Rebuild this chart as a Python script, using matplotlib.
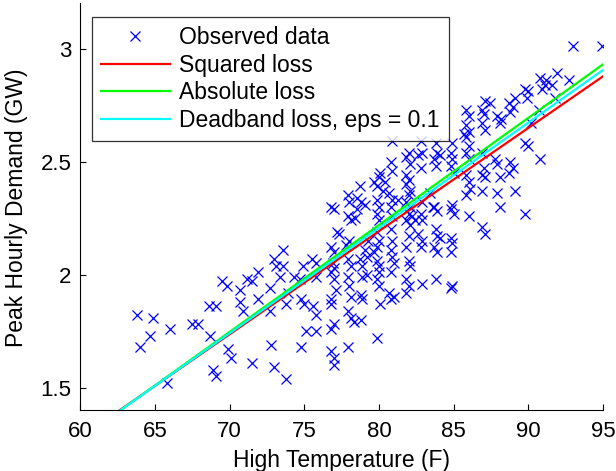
import numpy as np
import matplotlib
matplotlib.use("Agg")
import matplotlib.pyplot as plt

# datos: temperatura maxima (F) y demanda pico (GW)
temp = [
    63.8, 64.0, 64.9, 64.7, 66.0, 65.8, 67.5, 67.9, 68.6, 69.1, 68.7, 68.9, 69.1,
    69.5, 69.8, 69.9, 70.1, 70.7, 70.7, 70.9, 71.2, 71.5, 71.9, 71.9, 71.5, 72.7,
    72.7, 72.8, 73.0, 73.1, 73.0, 73.6, 73.6, 73.8, 73.4, 73.9, 73.8, 74.3, 74.7,
    74.8, 75.0, 75.1, 74.8, 74.9, 75.5, 75.8, 75.8, 75.6, 75.8, 75.8,
    76.8, 77.0, 76.8, 77.0, 76.9, 77.0, 76.8, 77.0, 77.1, 76.8, 76.8, 77.0, 76.8,
    76.8, 77.0, 77.0, 77.2, 77.3,
    77.9, 78.0, 77.9, 78.1, 78.0, 77.8, 77.9, 78.1, 77.9, 78.0, 78.1, 77.9, 78.1,
    78.3, 77.9, 78.5, 78.5, 78.4, 78.7, 78.8, 78.8, 78.9, 78.8, 78.7, 78.9, 79.1,
    79.2, 79.2, 78.9, 79.1, 79.3,
    79.7, 79.9, 80.0, 80.1, 79.9, 80.0, 79.9, 80.0, 79.9, 80.0, 79.9, 79.7, 79.9,
    80.0, 80.0, 79.9, 80.0, 80.1, 79.9, 80.4, 80.3,
    80.9, 80.8, 80.9, 80.7, 80.9, 80.8, 80.9, 80.8, 80.9, 80.8, 80.9, 81.0, 80.8,
    80.7, 80.8, 81.0, 81.3,
    82.0, 81.8, 82.1, 81.8, 82.0, 81.8, 82.1, 82.0, 81.8, 82.1, 82.0, 81.8, 82.1,
    82.0, 81.8, 82.0, 82.1, 81.8, 82.0, 81.8, 82.2, 82.4,
    82.8, 82.9, 82.6, 82.8, 82.9, 82.8, 82.9, 82.6, 82.9, 82.8, 82.9, 83.4, 83.6,
    83.8, 83.9, 83.7, 83.8, 84.1, 83.7, 83.9, 83.8, 83.9, 83.7, 83.9, 83.8, 84.1,
    84.9, 84.8, 84.9, 84.8, 85.0, 84.9, 84.8, 85.0, 84.8, 84.9, 84.8, 84.9, 84.8,
    85.8, 86.0, 85.8, 86.0, 85.8, 86.0, 85.8, 86.0, 85.8, 86.0, 86.1, 85.8, 86.0,
    85.7,
    87.1, 86.9, 87.0, 86.9, 87.1, 86.9, 87.0, 86.9, 87.1, 86.9, 86.9, 87.1, 87.4,
    87.9, 88.1, 87.8, 87.9, 88.1, 87.9, 88.1, 88.2,
    88.7, 89.0, 88.8, 89.1, 88.8, 89.0, 88.7, 89.1,
    89.8, 90.0, 89.9, 89.8, 90.0, 89.8, 90.2,
    90.8, 91.1, 90.9, 91.2, 90.8, 90.7,
    91.9, 91.6, 91.8, 92.7, 93.0, 94.9,
]
demanda = [
    1.82, 1.68, 1.81, 1.73, 1.76, 1.52, 1.78, 1.78, 1.86, 1.86, 1.73, 1.58, 1.55,
    1.97, 1.95, 1.67, 1.63, 1.93, 1.88, 1.84, 1.98, 1.97, 2.01, 1.89, 1.61, 1.94,
    1.84, 1.69, 2.07, 2.04, 1.59, 2.11, 2.04, 1.54, 1.99, 1.92, 1.87, 1.99, 1.98,
    1.89, 1.87, 1.75, 1.68, 2.04, 2.07, 2.05, 1.99, 1.86, 1.82, 1.75,
    2.30, 2.29, 2.12, 2.10, 2.05, 2.03, 2.01, 1.98, 1.93, 1.89, 1.87, 1.78, 1.76,
    1.66, 1.63, 1.60, 2.19, 2.18,
    2.35, 2.32, 2.26, 2.24, 2.15, 2.13, 2.07, 2.04, 1.99, 1.95, 1.90, 1.84, 1.81,
    1.79, 1.68, 2.34, 2.29, 2.25, 2.39, 2.32, 1.80, 1.99, 1.91, 2.07, 2.04, 2.11,
    2.08, 2.00, 1.89, 2.31, 2.15,
    2.41, 2.39, 2.43, 2.45, 2.33, 2.30, 2.27, 2.24, 2.19, 2.15, 2.12, 2.10, 2.06,
    2.04, 2.01, 1.98, 1.95, 1.87, 1.72, 2.41, 2.37,
    2.59, 2.50, 2.46, 2.36, 2.33, 2.30, 2.26, 2.20, 2.15, 2.11, 2.08, 2.05, 2.01,
    1.92, 1.89, 1.90, 2.33,
    2.54, 2.52, 2.49, 2.44, 2.42, 2.40, 2.37, 2.35, 2.32, 2.30, 2.27, 2.24, 2.22,
    2.17, 2.12, 2.06, 2.04, 1.98, 1.95, 1.92, 2.26, 2.24,
    2.59, 2.54, 2.53, 2.47, 2.32, 2.27, 2.24, 2.18, 2.15, 2.12, 1.96, 2.36, 2.30,
    2.58, 2.54, 2.51, 2.48, 2.53, 2.30, 2.28, 2.20, 2.17, 2.12, 2.10, 1.98, 2.16,
    2.58, 2.54, 2.51, 2.48, 2.45, 2.31, 2.29, 2.27, 2.16, 2.14, 2.10, 1.95, 1.94,
    2.73, 2.70, 2.66, 2.63, 2.61, 2.57, 2.54, 2.51, 2.44, 2.41, 2.38, 2.35, 2.26,
    2.62,
    2.77, 2.73, 2.71, 2.67, 2.64, 2.54, 2.47, 2.44, 2.43, 2.37, 2.21, 2.18, 2.76,
    2.70, 2.67, 2.51, 2.49, 2.43, 2.36, 2.30, 2.69,
    2.76, 2.74, 2.72, 2.78, 2.50, 2.47, 2.45, 2.37,
    2.82, 2.81, 2.78, 2.58, 2.57, 2.27, 2.67,
    2.87, 2.84, 2.82, 2.86, 2.51, 2.73,
    2.89, 2.84, 2.78, 2.86, 3.01, 3.01,
]

# ajustes lineales (pendiente, ordenada) para cada funcion de perdida
etiquetas_ajuste = ["Squared loss", "Absolute loss", "Deadband loss, eps = 0.1"]
pendientes = [0.04566, 0.04737, 0.0466]
ordenadas = [-1.4606, -1.570, -1.5218]
colores = ["#ff0000", "#00ff00", "#00ffff"]

xticks = [60, 65, 70, 75, 80, 85, 90, 95]
yticks = [1.5, 2, 2.5, 3]
ytick_labels = ["1.5", "2", "2.5", "3"]

plt.rcParams['font.family'] = ['Liberation Sans', 'DejaVu Sans']

fig = plt.figure(figsize=(6.16, 4.71), dpi=100)
ax = fig.add_axes([0.130, 0.129, 0.849, 0.864])

ax.plot(temp, demanda, linestyle='none', marker='x', color='#0000ff',
        markersize=7, markeredgewidth=0.9, label="Observed data")

x_linea = np.array([60.0, 95.0])
for etiqueta, m, b, c in zip(etiquetas_ajuste, pendientes, ordenadas, colores):
    ax.plot(x_linea, m * x_linea + b, color=c, linewidth=1.6, label=etiqueta)

ax.set_xlim(60, 95)
ax.set_ylim(1.4, 3.2)
ax.set_xticks(xticks)
ax.set_yticks(yticks)
ax.set_yticklabels(ytick_labels)
ax.tick_params(direction='in', labelsize=16, length=4, width=0.8)
ax.tick_params(axis='x', pad=8)
ax.tick_params(axis='y', pad=6)
ax.spines['top'].set_visible(False)
ax.spines['right'].set_visible(False)

ax.set_xlabel("High Temperature (F)", fontsize=16.5)
ax.set_ylabel("Peak Hourly Demand (GW)", fontsize=16.5)
ax.xaxis.set_label_coords(0.5, -0.095)
ax.yaxis.set_label_coords(-0.100, 0.497)

leg = ax.legend(loc='upper left', bbox_to_anchor=(0.0224, 0.966), fontsize=16.5,
                frameon=True, fancybox=False, edgecolor='black',
                handlelength=3.0, handletextpad=0.4, labelspacing=0.2,
                borderpad=0.4, borderaxespad=0)
leg.get_frame().set_linewidth(0.9)

fig.savefig("out.png", dpi=100)
